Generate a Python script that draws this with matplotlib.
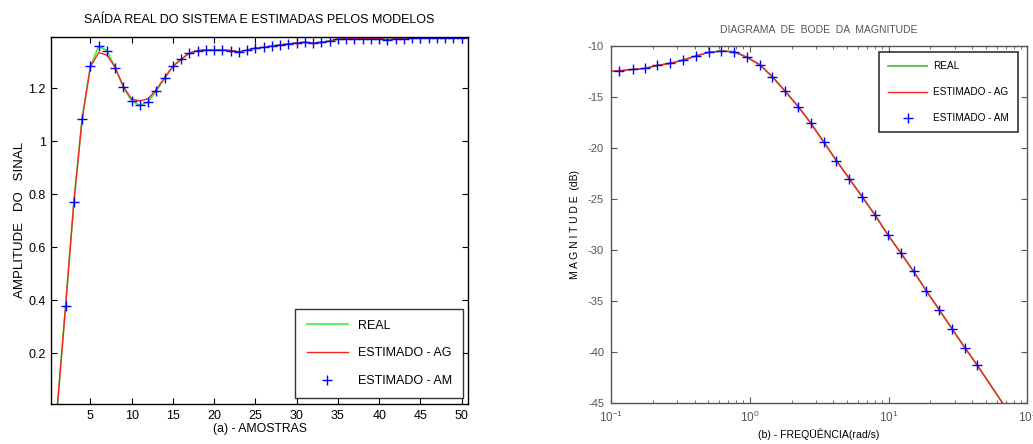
import matplotlib
matplotlib.use("Agg")
import matplotlib.pyplot as plt
from matplotlib.ticker import LogLocator, NullFormatter

plt.rcParams["font.family"] = ["Liberation Sans", "DejaVu Sans"]
plt.rcParams["axes.unicode_minus"] = False
plt.rcParams["mathtext.fontset"] = "custom"
plt.rcParams["mathtext.rm"] = "Liberation Sans"

# --- (a) step response, samples 1..51 ---
samples = list(range(1, 52))
resp_real = [0.0, 0.38, 0.77, 1.084, 1.282, 1.358, 1.342, 1.277, 1.203, 1.152,
             1.135, 1.148, 1.19, 1.237, 1.282, 1.309, 1.332, 1.342, 1.344, 1.344,
             1.344, 1.342, 1.337, 1.344, 1.351, 1.354, 1.359, 1.363, 1.367, 1.371,
             1.373, 1.37, 1.373, 1.378, 1.385, 1.387, 1.387, 1.387, 1.387, 1.387,
             1.383, 1.387, 1.387, 1.388, 1.39, 1.39, 1.39, 1.39, 1.39, 1.39, 1.39]
resp_ag = [0.0, 0.38, 0.77, 1.084, 1.28, 1.334, 1.325, 1.279, 1.206, 1.159,
           1.152, 1.16, 1.195, 1.24, 1.282, 1.309, 1.332, 1.342, 1.344, 1.344,
           1.344, 1.342, 1.337, 1.344, 1.351, 1.354, 1.359, 1.363, 1.367, 1.371,
           1.373, 1.37, 1.373, 1.378, 1.385, 1.387, 1.387, 1.387, 1.387, 1.387,
           1.383, 1.387, 1.387, 1.388, 1.39, 1.39, 1.39, 1.39, 1.39, 1.39, 1.39]
am_samples = samples[1:50]
resp_am = resp_real[1:50]

# --- (b) bode magnitude ---
freq_am = [0.1142, 0.1432, 0.1747, 0.2154, 0.2658, 0.3315, 0.4065, 0.5043,
           0.6253, 0.7713, 0.9568, 1.180, 1.456, 1.806, 2.239, 2.762, 3.407,
           4.203, 5.212, 6.465, 8.020, 9.945, 12.27, 15.13, 18.66, 23.14,
           28.71, 35.42, 43.70]
mag_am = [-12.45, -12.32, -12.22, -11.93, -11.73, -11.41, -11.01, -10.65,
          -10.52, -10.59, -11.14, -11.86, -13.04, -14.48, -15.98, -17.61,
          -19.41, -21.24, -23.01, -24.80, -26.60, -28.57, -30.29, -32.08,
          -33.97, -35.83, -37.72, -39.55, -41.30]
freq_line = [0.1] + freq_am + [66.5]
mag_real = [-12.5] + mag_am + [-45.0]
mag_ag = [-12.5] + mag_am + [-45.0]
decade_labels = ["10$^{-1}$", "10$^{0}$", "10$^{1}$", "10$^{2}$"]

GREEN = "#3cf03c"
RED = "#ff2020"
BLUE = "#0000ff"
GREY = "#555555"

fig = plt.figure(figsize=(10.33, 4.44), dpi=100)

# ---------------- left panel ----------------
ax1 = fig.add_axes([0.0497, 0.0901, 0.4031, 0.8272])
ax1.plot(samples, resp_real, color=GREEN, lw=1.2, label="REAL")
ax1.plot(samples, resp_ag, color=RED, lw=1.0, label="ESTIMADO - AG")
ax1.plot(am_samples, resp_am, "+", color=BLUE, ms=7, mew=1.0,
         label="ESTIMADO - AM")
ax1.set_xlim(0.27, 50.73)
ax1.set_ylim(0.009, 1.394)
ax1.set_xticks(range(5, 51, 5))
ax1.set_yticks([0.2, 0.4, 0.6, 0.8, 1.0, 1.2])
ax1.set_yticklabels(["0.2", "0.4", "0.6", "0.8", "1", "1.2"])
ax1.tick_params(direction="in", top=True, right=True, length=4,
                labelsize=9, pad=4)
for s in ax1.spines.values():
    s.set_linewidth(1.0)
ax1.set_title("SAÍDA REAL DO SISTEMA E ESTIMADAS PELOS MODELOS",
              fontsize=9, pad=10)
ax1.set_xlabel("(a) - AMOSTRAS", fontsize=8.8, labelpad=1)
ax1.set_ylabel("AMPLITUDE   DO   SINAL", fontsize=9.5, labelpad=2)
leg1 = ax1.legend(loc="lower right", bbox_to_anchor=(0.989, 0.0155),
                  fontsize=9, frameon=True, fancybox=False, handlelength=3.3,
                  labelspacing=1.25, borderpad=0.9, handletextpad=0.8,
                  borderaxespad=0)
leg1.get_frame().set_edgecolor("black")
leg1.get_frame().set_linewidth(1.0)

# ---------------- right panel ----------------
ax2 = fig.add_axes([0.5915, 0.0917, 0.403, 0.8053])
ax2.semilogx(freq_line, mag_real, color="#3cb83c", lw=1.2, label="REAL")
ax2.semilogx(freq_line, mag_ag, color=RED, lw=1.0, label="ESTIMADO - AG")
ax2.semilogx(freq_am, mag_am, "+", color=BLUE, ms=7, mew=1.0,
             label="ESTIMADO - AM")
ax2.set_xlim(0.1, 100)
ax2.set_ylim(-45, -10)
ax2.set_yticks(range(-45, -9, 5))
ax2.set_xticks([0.1, 1, 10, 100])
ax2.set_xticklabels(decade_labels)
ax2.xaxis.set_minor_locator(LogLocator(base=10, subs=range(2, 10), numticks=10))
ax2.xaxis.set_minor_formatter(NullFormatter())
ax2.tick_params(which="both", direction="in", top=True, right=True,
                labelsize=8, colors=GREY, labelcolor=GREY, pad=5)
ax2.tick_params(which="major", length=4)
ax2.tick_params(which="minor", length=2.5)
ax2.tick_params(axis="x", labelsize=8.5)
for s in ax2.spines.values():
    s.set_color(GREY)
    s.set_linewidth(1.0)
ax2.set_title("DIAGRAMA  DE  BODE  DA  MAGNITUDE",
              fontsize=7.5, color=GREY, pad=9)
ax2.set_xlabel("(b) - FREQÜÊNCIA(rad/s)", fontsize=7.6, labelpad=2)
ax2.set_ylabel("M A G N I T U D E  (dB)", fontsize=7.5, labelpad=6)
leg2 = ax2.legend(loc="upper right", bbox_to_anchor=(0.978, 0.9815),
                  fontsize=7.2, frameon=True, fancybox=False, handlelength=3.9,
                  labelspacing=1.6, borderpad=0.9, handletextpad=0.6,
                  borderaxespad=0)
leg2.get_frame().set_edgecolor("black")
leg2.get_frame().set_linewidth(1.2)

fig.savefig("out.png", dpi=100)
